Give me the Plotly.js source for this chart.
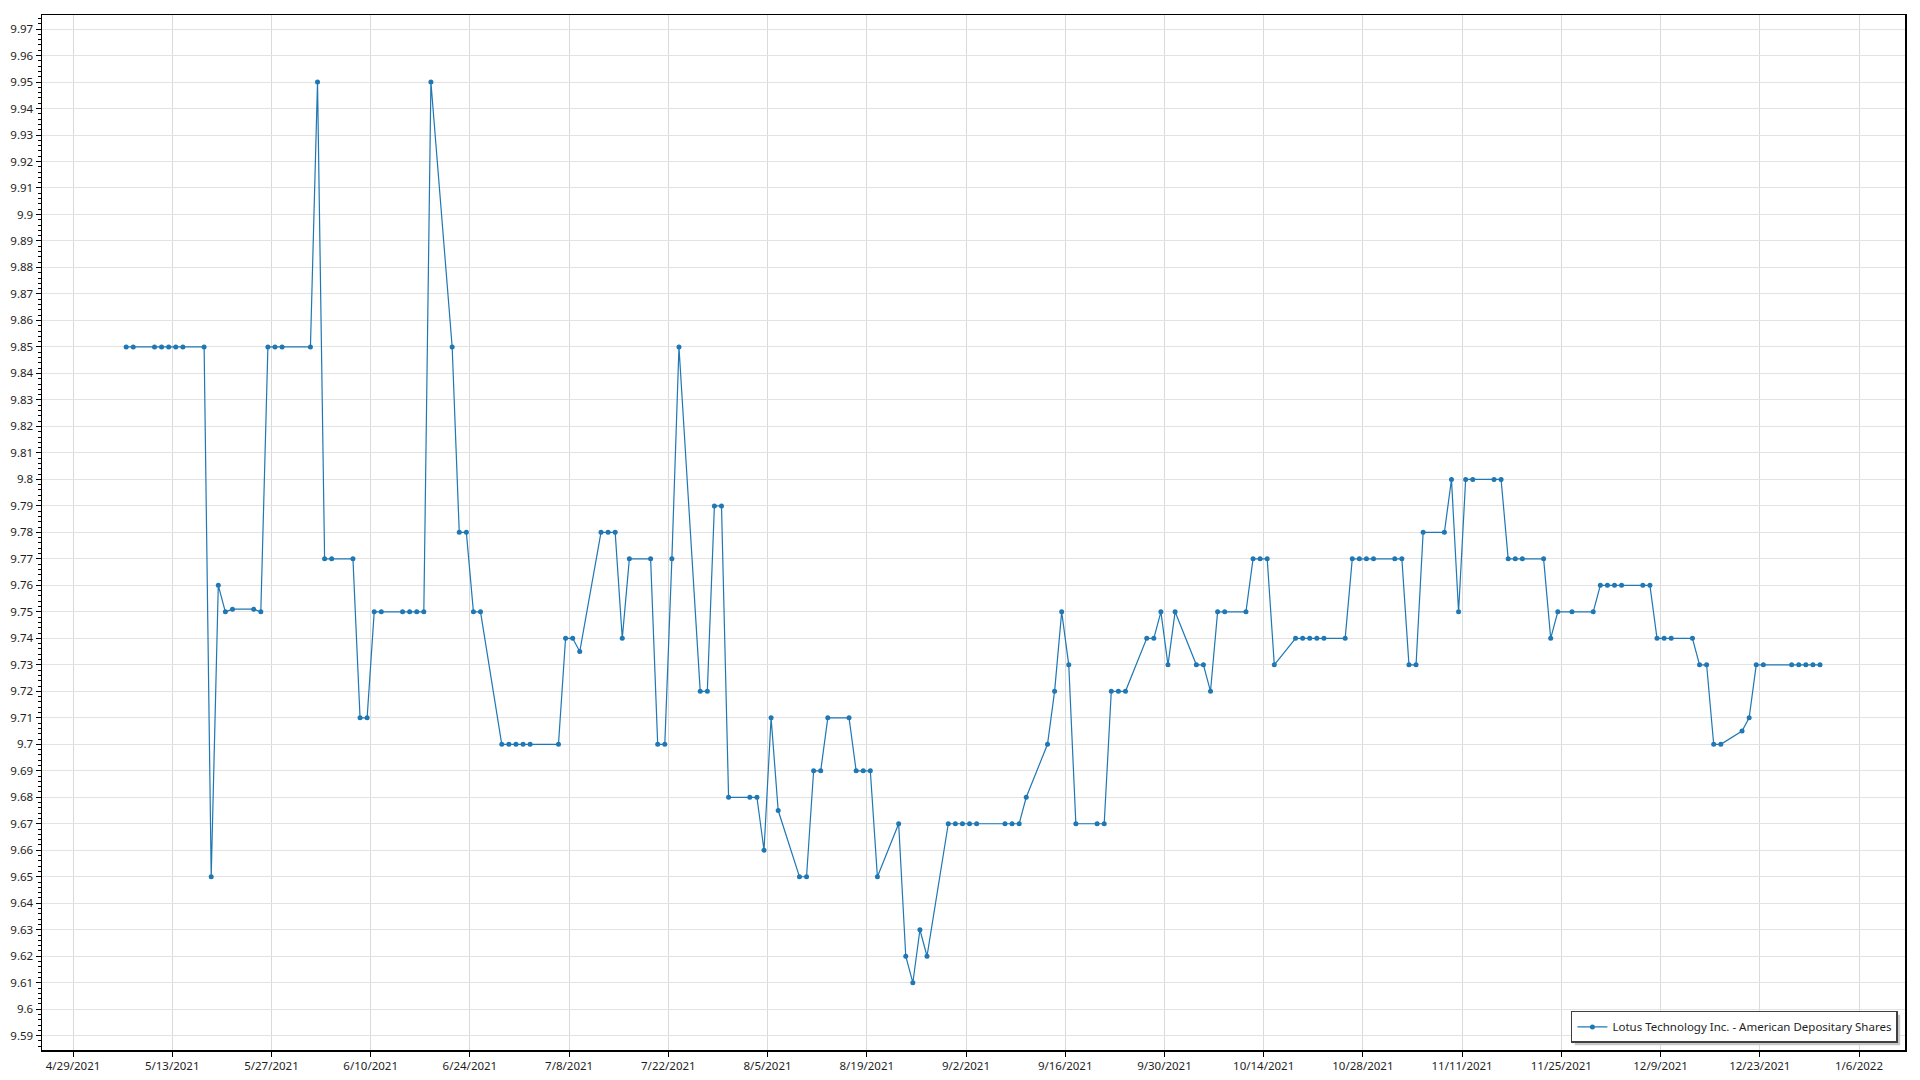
<!DOCTYPE html>
<html>
<head>
<meta charset="utf-8">
<script src="https://cdn.plot.ly/plotly-3.0.1.min.js"></script>
<style>
  html, body { margin: 0; padding: 0; background: #ffffff; }
  #chart { width: 1920px; height: 1080px; }
</style>
</head>
<body>
<div id="chart"></div>
<script>
// ---- Data (trading days, price) ----
const seriesName = "Lotus Technology Inc. - American Depositary Shares";

const dates = [
  "2021-05-06","2021-05-07","2021-05-10","2021-05-11","2021-05-12","2021-05-13","2021-05-14",
  "2021-05-17","2021-05-18","2021-05-19","2021-05-20","2021-05-21","2021-05-24","2021-05-25",
  "2021-05-26","2021-05-27","2021-05-28","2021-06-01","2021-06-02","2021-06-03","2021-06-04",
  "2021-06-07","2021-06-08","2021-06-09","2021-06-10","2021-06-11","2021-06-14","2021-06-15",
  "2021-06-16","2021-06-17","2021-06-18","2021-06-21","2021-06-22","2021-06-23","2021-06-24",
  "2021-06-25","2021-06-28","2021-06-29","2021-06-30","2021-07-01","2021-07-02","2021-07-06",
  "2021-07-07","2021-07-08","2021-07-09","2021-07-12","2021-07-13","2021-07-14","2021-07-15",
  "2021-07-16","2021-07-19","2021-07-20","2021-07-21","2021-07-22","2021-07-23","2021-07-26",
  "2021-07-27","2021-07-28","2021-07-29","2021-07-30","2021-08-02","2021-08-03","2021-08-04",
  "2021-08-05","2021-08-06","2021-08-09","2021-08-10","2021-08-11","2021-08-12","2021-08-13",
  "2021-08-16","2021-08-17","2021-08-18","2021-08-19","2021-08-20","2021-08-23","2021-08-24",
  "2021-08-25","2021-08-26","2021-08-27","2021-08-30","2021-08-31","2021-09-01","2021-09-02",
  "2021-09-03","2021-09-07","2021-09-08","2021-09-09","2021-09-10","2021-09-13","2021-09-14",
  "2021-09-15","2021-09-16","2021-09-17","2021-09-20","2021-09-21","2021-09-22","2021-09-23",
  "2021-09-24","2021-09-27","2021-09-28","2021-09-29","2021-09-30","2021-10-01","2021-10-04",
  "2021-10-05","2021-10-06","2021-10-07","2021-10-08","2021-10-11","2021-10-12","2021-10-13",
  "2021-10-14","2021-10-15","2021-10-18","2021-10-19","2021-10-20","2021-10-21","2021-10-22",
  "2021-10-25","2021-10-26","2021-10-27","2021-10-28","2021-10-29","2021-11-01","2021-11-02",
  "2021-11-03","2021-11-04","2021-11-05","2021-11-08","2021-11-09","2021-11-10","2021-11-11",
  "2021-11-12","2021-11-15","2021-11-16","2021-11-17","2021-11-18","2021-11-19","2021-11-22",
  "2021-11-23","2021-11-24","2021-11-26","2021-11-29","2021-11-30","2021-12-01","2021-12-02",
  "2021-12-03","2021-12-06","2021-12-07","2021-12-08","2021-12-09","2021-12-10","2021-12-13",
  "2021-12-14","2021-12-15","2021-12-16","2021-12-17","2021-12-20","2021-12-21","2021-12-22",
  "2021-12-23","2021-12-27","2021-12-28","2021-12-29","2021-12-30","2021-12-31"
];

const prices = [
  9.85, 9.85, 9.85, 9.85, 9.85, 9.85, 9.85,
  9.85, 9.65, 9.76, 9.75, 9.751, 9.751, 9.75,
  9.85, 9.85, 9.85, 9.85, 9.95, 9.77, 9.77,
  9.77, 9.71, 9.71, 9.75, 9.75, 9.75, 9.75,
  9.75, 9.75, 9.95, 9.85, 9.78, 9.78, 9.75,
  9.75, 9.70, 9.70, 9.70, 9.70, 9.70, 9.70,
  9.74, 9.74, 9.735, 9.78, 9.78, 9.78, 9.74,
  9.77, 9.77, 9.70, 9.70, 9.77, 9.85, 9.72,
  9.72, 9.79, 9.79, 9.68, 9.68, 9.68, 9.66,
  9.71, 9.675, 9.65, 9.65, 9.69, 9.69, 9.71,
  9.71, 9.69, 9.69, 9.69, 9.65, 9.67, 9.62,
  9.61, 9.63, 9.62, 9.67, 9.67, 9.67, 9.67,
  9.67, 9.67, 9.67, 9.67, 9.68, 9.70, 9.72,
  9.75, 9.73, 9.67, 9.67, 9.67, 9.72, 9.72,
  9.72, 9.74, 9.74, 9.75, 9.73, 9.75, 9.73,
  9.73, 9.72, 9.75, 9.75, 9.75, 9.77, 9.77,
  9.77, 9.73, 9.74, 9.74, 9.74, 9.74, 9.74,
  9.74, 9.77, 9.77, 9.77, 9.77, 9.77, 9.77,
  9.73, 9.73, 9.78, 9.78, 9.80, 9.75, 9.80,
  9.80, 9.80, 9.80, 9.77, 9.77, 9.77, 9.77,
  9.74, 9.75, 9.75, 9.75, 9.76, 9.76, 9.76,
  9.76, 9.76, 9.76, 9.74, 9.74, 9.74, 9.74,
  9.73, 9.73, 9.70, 9.70, 9.705, 9.71, 9.73,
  9.73, 9.73, 9.73, 9.73, 9.73, 9.73
];

// Tick label format used on the date axis
const xTickFormat = "%-m/%-d/%Y";
const xTickStart = "2021-04-29";

// ---- Chart ----
const blue = "rgb(31,119,180)";
const fontFam = "Noto Sans, Open Sans, sans-serif";

// points sit at the middle of each trading day
const xs = dates.map(d => d + " 12:00");

const trace = {
  type: "scatter",
  mode: "lines+markers",
  name: seriesName,
  x: xs,
  y: prices,
  line: { color: blue, width: 1.2 },
  marker: { color: blue, size: 5 }
};

const L = 42, R = 15, T = 15, B = 30;
const W = 1920, H = 1080;

const layout = {
  width: W,
  height: H,
  margin: { l: L, r: R, t: T, b: B, pad: 0 },
  paper_bgcolor: "#ffffff",
  plot_bgcolor: "#ffffff",
  font: { family: fontFam, size: 11.5, color: "#1e1e1e" },
  showlegend: true,
  legend: {
    x: 0.9962, y: 0.0068, xanchor: "right", yanchor: "bottom",
    bgcolor: "#ffffff", bordercolor: "#404040", borderwidth: 1.5,
    font: { family: fontFam, size: 11.5, color: "#1e1e1e" },
    itemwidth: 30
  },
  xaxis: {
    type: "date",
    range: ["2021-04-24 15:01", "2022-01-12 11:46"],
    tick0: xTickStart,
    dtick: 14 * 86400000,
    tickformat: xTickFormat,
    showgrid: true,
    gridcolor: "#dadada",
    gridwidth: 1,
    showline: true,
    linecolor: "#000000",
    linewidth: 1.5,
    mirror: true,
    ticks: "outside",
    ticklen: 5,
    tickcolor: "#000000",
    zeroline: false,
    tickfont: { family: fontFam, size: 11.5, color: "#1e1e1e" }
  },
  yaxis: {
    range: [9.5846, 9.9753],
    tick0: 9.59,
    dtick: 0.01,
    showgrid: true,
    gridcolor: "#e3e3e3",
    gridwidth: 1,
    showline: true,
    linecolor: "#000000",
    linewidth: 1.5,
    mirror: true,
    ticks: "outside",
    ticklen: 5,
    tickcolor: "#000000",
    zeroline: false,
    minor: { dtick: 0.002, ticks: "outside", ticklen: 3, tickcolor: "#000000", showgrid: false },
    tickfont: { family: fontFam, size: 11.5, color: "#1e1e1e" }
  }
};

Plotly.newPlot("chart", [trace], layout, { displayModeBar: false, staticPlot: true }).then(gd => {
  // soft drop shadow behind the legend box
  const bg = gd.querySelector(".legend .bg");
  if (!bg) return;
  const r = bg.getBoundingClientRect();
  const c = gd.getBoundingClientRect();
  const pw = W - L - R, ph = H - T - B;
  const px = v => (v - c.left - L) / pw;
  const py = v => (H - B - (v - c.top)) / ph;
  const off = 3;
  Plotly.relayout(gd, {
    shapes: [{
      type: "rect", xref: "paper", yref: "paper", layer: "above",
      x0: px(r.left + off), x1: px(r.right + off),
      y0: py(r.bottom + off), y1: py(r.top + off),
      fillcolor: "#c8c8c8", line: { width: 0 }
    }]
  });
});
</script>
</body>
</html>
